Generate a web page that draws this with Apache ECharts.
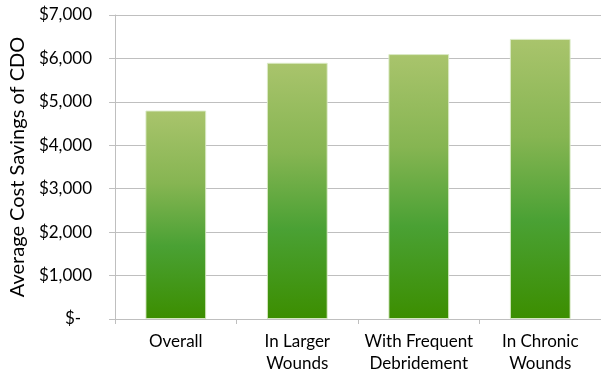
<!DOCTYPE html>
<html>
<head>
<meta charset="utf-8">
<script src="https://cdn.jsdelivr.net/npm/echarts@6/dist/echarts.min.js"></script>
<style>
  html, body { margin: 0; padding: 0; background: #fff; }
  #chart { width: 601px; height: 375px; }
</style>
</head>
<body>
<div id="chart"></div>
<script>
// Average cost savings per wound group
const categories = ['Overall', 'In Larger\nWounds', 'With Frequent\nDebridement', 'In Chronic\nWounds'];
const savings = [4800, 5900, 6100, 6450];
const axisTitle = 'Average Cost Savings of CDO';

const FONT = 'Lato, "Open Sans", sans-serif';

function money(v) {
  if (v === 0) return '{z|$-}';
  return '$' + v.toLocaleString('en-US');
}

const chart = echarts.init(document.getElementById('chart'), null, { renderer: 'canvas' });
chart.setOption({
  animation: false,
  backgroundColor: '#ffffff',
  grid: { left: 114, right: -11, top: 15, bottom: 56, containLabel: false },
  xAxis: {
    type: 'category',
    data: categories,
    axisLine: { show: true, lineStyle: { color: '#bfbfbf', width: 1 } },
    axisTick: { show: true, length: 5, alignWithLabel: false, lineStyle: { color: '#bfbfbf' } },
    axisLabel: {
      color: '#000', fontFamily: FONT, fontSize: 17, lineHeight: 22, margin: 12,
      interval: 0
    }
  },
  yAxis: {
    type: 'value',
    min: 0, max: 7000, interval: 1000,
    name: axisTitle,
    nameLocation: 'middle',
    nameGap: 86,
    nameRotate: 90,
    nameTextStyle: { color: '#000', fontFamily: FONT, fontSize: 20 },
    axisLine: { show: true, lineStyle: { color: '#bfbfbf', width: 1 } },
    axisTick: { show: true, length: 6, lineStyle: { color: '#bfbfbf' } },
    splitLine: { show: true, lineStyle: { color: '#bfbfbf', width: 1 } },
    axisLabel: {
      color: '#000', fontFamily: FONT, fontSize: 17, margin: 23,
      formatter: money,
      rich: { z: { fontFamily: FONT, fontSize: 17, color: '#000', padding: [0, 11, 0, 0] } }
    }
  },
  series: [{
    type: 'bar',
    data: savings,
    barCategoryGap: '50%',
    itemStyle: {
      borderColor: 'rgba(220,235,200,0.9)',
      borderWidth: 1,
      color: new echarts.graphic.LinearGradient(0, 0, 0, 1, [
        { offset: 0, color: '#a9c46c' },
        { offset: 0.35, color: '#86b552' },
        { offset: 0.65, color: '#4aa134' },
        { offset: 1, color: '#3c8e00' }
      ])
    }
  }]
});
</script>
</body>
</html>
